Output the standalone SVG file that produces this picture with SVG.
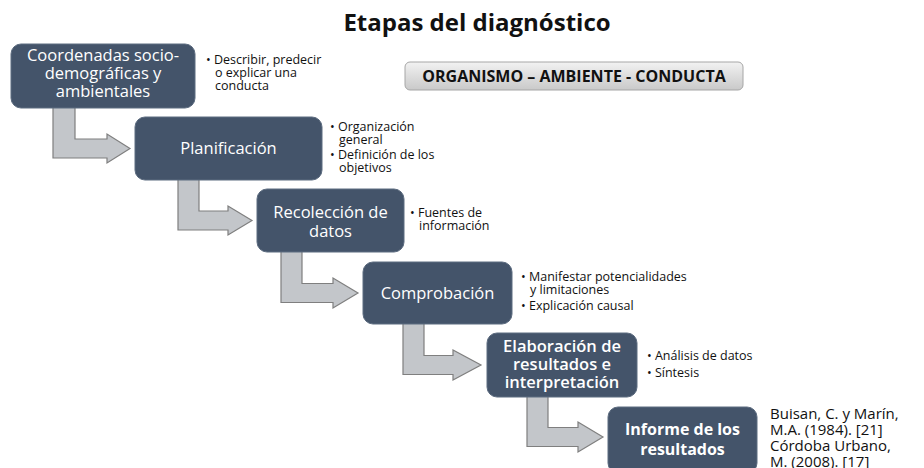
<svg xmlns="http://www.w3.org/2000/svg" width="924" height="468" viewBox="0 0 924 468">
<defs>
<linearGradient id="gray" x1="0" y1="0" x2="0" y2="1">
<stop offset="0" stop-color="#f2f2f2"/>
<stop offset="1" stop-color="#c9c9c9"/>
</linearGradient>
<style>
.box{fill:#44546a;stroke:#5d6c80;stroke-width:1}
.bt{font-family:"Open Sans","Liberation Sans",sans-serif;font-size:16.5px;fill:#ffffff;text-anchor:middle}
.bb{font-weight:bold;font-size:16px}
.sm{font-family:"Open Sans","Liberation Sans",sans-serif;font-size:12.5px;fill:#111111}
.cit{font-family:"Open Sans","Liberation Sans",sans-serif;font-size:15px;fill:#111111}
.arr{fill:#c3c6ca;stroke:#7f7f7f;stroke-width:1.2}
</style>
</defs>
<rect width="924" height="468" fill="#ffffff"/>
<text x="477" y="31" font-family="'Open Sans','Liberation Sans',sans-serif" font-size="24" font-weight="bold" text-anchor="middle" fill="#111">Etapas del diagnóstico</text>
<g id="connectors">
<path class="arr" d="M53,104 L75,104 L75,139 L107,139 L107,134 L130,148.5 L107,163 L107,158 L53,158 Z"/>
<path class="arr" d="M178,176 L199,176 L199,211 L228,211 L228,206 L252,220.5 L228,235 L228,230 L178,230 Z"/>
<path class="arr" d="M281,248 L302,248 L302,283.5 L333,283.5 L333,278 L358,293 L333,308 L333,302.5 L281,302.5 Z"/>
<path class="arr" d="M403,320 L424,320 L424,355.5 L453,355.5 L453,350 L481,365 L453,380 L453,374.5 L403,374.5 Z"/>
<path class="arr" d="M527,393 L548,393 L548,427.5 L578,427.5 L578,422 L603,437 L578,452 L578,446.5 L527,446.5 Z"/>
</g>
<g id="n1">
<rect class="box" x="11" y="44" width="184" height="64" rx="10"/>
<text class="bt" x="103" y="61">Coordenadas socio-</text>
<text class="bt" x="103" y="79">demográficas y</text>
<text class="bt" x="103" y="97">ambientales</text>
<text class="sm" x="206" y="64">• Describir, predecir</text>
<text class="sm" x="215" y="77">o explicar una</text>
<text class="sm" x="215" y="90">conducta</text>
</g>
<g id="label">
<rect x="405" y="62" width="338" height="28" rx="5" fill="url(#gray)" stroke="#a6a6a6"/>
<text x="574" y="82" font-family="'Open Sans','Liberation Sans',sans-serif" font-size="16" font-weight="bold" text-anchor="middle" fill="#111">ORGANISMO – AMBIENTE - CONDUCTA</text>
</g>
<g id="n2">
<rect class="box" x="135" y="117" width="187" height="63" rx="10"/>
<text class="bt" x="228.5" y="154">Planificación</text>
<text class="sm" x="330" y="131">• Organización</text>
<text class="sm" x="339" y="144">general</text>
<text class="sm" x="330" y="159">• Definición de los</text>
<text class="sm" x="339" y="172">objetivos</text>
</g>
<g id="n3">
<rect class="box" x="257" y="189" width="147" height="63" rx="10"/>
<text class="bt" x="330.5" y="218">Recolección de</text>
<text class="bt" x="330.5" y="237">datos</text>
<text class="sm" x="410" y="217">• Fuentes de</text>
<text class="sm" x="419" y="230">información</text>
</g>
<g id="n4">
<rect class="box" x="363" y="262" width="149" height="62" rx="10"/>
<text class="bt" x="437.5" y="299">Comprobación</text>
<text class="sm" x="521" y="281">• Manifestar potencialidades</text>
<text class="sm" x="530" y="294">y limitaciones</text>
<text class="sm" x="521" y="310">• Explicación causal</text>
</g>
<g id="n5">
<rect class="box" x="487" y="333" width="150" height="64" rx="10"/>
<text class="bt" x="562" y="352" font-weight="600" font-size="16">Elaboración de</text>
<text class="bt" x="562" y="370" font-weight="600" font-size="16">resultados e</text>
<text class="bt" x="562" y="388" font-weight="600" font-size="16">interpretación</text>
<text class="sm" x="647" y="360">• Análisis de datos</text>
<text class="sm" x="647" y="377">• Síntesis</text>
</g>
<g id="n6">
<rect class="box" x="608" y="407" width="149" height="66" rx="10"/>
<text class="bt bb" x="682.5" y="435">Informe de los</text>
<text class="bt bb" x="682.5" y="455">resultados</text>
</g>
<g id="citation">
<text class="cit" x="770" y="419">Buisan, C. y Marín,</text>
<text class="cit" x="770" y="435">M.A. (1984). [21]</text>
<text class="cit" x="770" y="451">Córdoba Urbano,</text>
<text class="cit" x="770" y="467">M. (2008). [17]</text>
</g>
</svg>
